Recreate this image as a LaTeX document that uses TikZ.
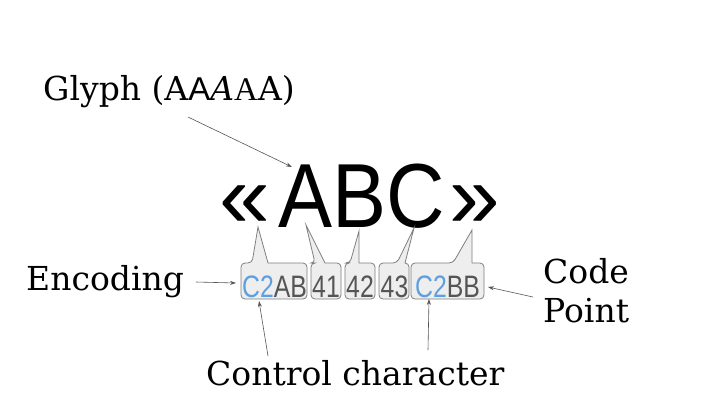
\documentclass[tikz,border=0pt]{standalone}
\usepackage{fontspec}
\setmainfont{DejaVu Serif}
\newfontfamily\glyphsans{Liberation Sans}
\newfontfamily\altserif{Liberation Serif}
\usetikzlibrary{arrows.meta}
\definecolor{boxfill}{HTML}{EEEEEE}
\definecolor{boxline}{HTML}{7F7F7F}
\definecolor{hexgray}{HTML}{555555}
\definecolor{hexblue}{HTML}{5DA0E0}
\definecolor{arrowgray}{HTML}{555555}
\newcommand\hexfont{\glyphsans\fontsize{31}{31}\selectfont}
\newcommand\hexs[1]{\scalebox{0.8}[1]{#1}}
\newcommand\calloutbox[8]{%
  \draw[callout] (#1,{(#2+#4)/2}) [rounded corners=4pt] -- (#1,#2) -- (#5,#2)
    [sharp corners] -- (#7,#8) -- (#6,#2) [rounded corners=4pt] -- (#3,#2)
    -- (#3,#4) -- (#1,#4) -- cycle;}
\tikzset{
  lbl/.style={font=\fontsize{33}{38}\selectfont, inner sep=0pt, anchor=base west},
  big/.style={inner sep=0pt, anchor=base west, font=\glyphsans\fontsize{91}{91}\selectfont},
  callout/.style={fill=boxfill, draw=boxline, line width=0.8pt},
  hex/.style={inner sep=0pt, anchor=base, text=hexgray, font=\hexfont},
  pointer/.style={draw=arrowgray, line width=0.6pt, -{Stealth[length=6pt,width=4pt]}},
}
\begin{document}
\begin{tikzpicture}[x=1pt,y=-1pt]
\useasboundingbox[fill=white] (0,0) rectangle (720,405);
% big glyphs
\node[big] (lq) at (219,227) {«};
\node[big] (abc) at (278,227) {\scalebox{0.89}[1]{ABC}};
\node[big] (rq) at (449,227) {»};
% callout boxes
\calloutbox{241}{263}{307}{299}{252}{268}{258}{227}
\calloutbox{311}{263}{341}{299}{315}{325}{306}{225}
\calloutbox{345}{263}{375}{299}{350}{359}{359}{231}
\calloutbox{379}{263}{409}{299}{397}{405}{414}{228}
\calloutbox{411}{263}{484}{299}{453}{472}{472}{230}
% hex texts
\node[hex] (h1) at (274.5,297) {\hexs{\textcolor{hexblue}{C2}AB}};
\node[hex] (h2) at (326,297) {\hexs{41}};
\node[hex] (h3) at (360,297) {\hexs{42}};
\node[hex] (h4) at (394.5,297) {\hexs{43}};
\node[hex] (h5) at (447.5,297) {\hexs{\textcolor{hexblue}{C2}BB}};
% labels
\node[lbl] (glyph) at (43,100) {Glyph (A{\glyphsans A}{\itshape A}{\altserif A}A)};
\node[lbl] (enc) at (26,290) {Encoding};
\node[lbl] (cpa) at (543,283) {Code};
\node[lbl] (cpb) at (543,322) {Point};
\node[lbl] (ctrl) at (206,385) {Control character};
% arrow ends
\coordinate (gs) at (188,117);  \coordinate (ge) at (292,167);
\coordinate (es) at (196,282);  \coordinate (ee) at (236,283);
\coordinate (cs) at (533,297);  \coordinate (ce) at (488,287);
\coordinate (ls) at (268,356);  \coordinate (le) at (259,301);
\coordinate (rs) at (428,350);  \coordinate (re) at (429,299);
\draw[pointer] (gs) -- (ge);
\draw[pointer] (es) -- (ee);
\draw[pointer] (cs) -- (ce);
\draw[pointer] (ls) -- (le);
\draw[pointer] (rs) -- (re);
\end{tikzpicture}
\end{document}
